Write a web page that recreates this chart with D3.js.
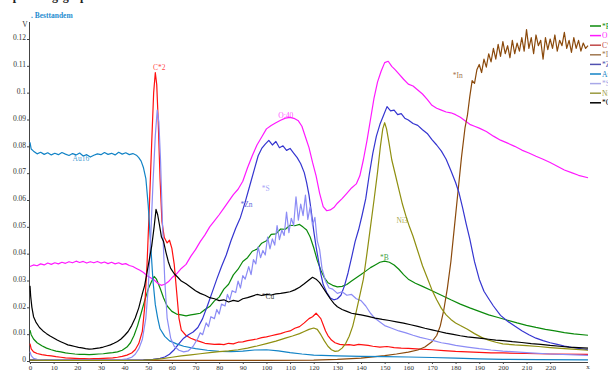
<!DOCTYPE html>
<html>
<head>
<meta charset="utf-8">
<script src="https://cdn.jsdelivr.net/npm/d3@7"></script>
<style>
  body { margin: 0; background: #fff; }
  svg { display: block; font-family: "Liberation Serif", "DejaVu Serif", serif; }
</style>
</head>
<body>
<div id="chart"></div>
<script>
// values, [x, volts]
const green = [[0,0.0115],[0.5,0.0098],[1.5,0.0082],[3,0.0068],[5,0.0057],[7,0.0048],[9,0.0042],[11,0.0037],[13,0.0034],[15,0.003],[17,0.0028],[19,0.0026],[21,0.0025],[23,0.0025],[25,0.0024],[27,0.0025],[29,0.0026],[31,0.0027],[33,0.0029],[35,0.0031],[37,0.0034],[39,0.004],[41,0.0052],[42.5,0.0068],[44,0.0095],[45.5,0.0132],[47,0.0178],[48.5,0.0225],[50,0.0268],[51.5,0.0298],[52.5,0.0315],[53.5,0.0305],[55,0.0272],[56.5,0.0235],[58,0.0205],[60,0.0185],[62,0.0175],[64,0.0172],[66,0.0168],[68,0.0172],[70,0.0175],[72,0.0178],[74,0.0192],[76,0.0203],[78,0.0224],[80,0.0238],[82,0.0268],[84,0.0286],[86,0.0321],[88,0.0342],[90,0.0371],[92,0.0385],[94,0.0409],[96,0.0417],[98,0.0439],[100,0.0448],[102,0.0472],[104,0.0474],[106,0.0492],[108,0.0491],[110,0.0506],[112,0.0504],[114,0.0509],[115.5,0.0499],[117,0.0488],[118.5,0.0462],[120,0.0422],[121.5,0.0375],[123,0.0338],[124.5,0.031],[126,0.0292],[128,0.0282],[130,0.0276],[132,0.0278],[134,0.0285],[136,0.0298],[138,0.031],[140,0.0322],[142,0.0335],[144,0.0348],[146,0.0358],[148,0.0368],[150,0.0372],[152,0.0368],[154,0.0358],[156,0.0342],[158,0.0322],[160,0.0305],[163,0.029],[166,0.0278],[170,0.0262],[174,0.0245],[178,0.0228],[182,0.0212],[186,0.0198],[190,0.0185],[194,0.0172],[198,0.0162],[202,0.0152],[206,0.0142],[210,0.0133],[214,0.0125],[218,0.0118],[222,0.0112],[226,0.0106],[230,0.0101],[236,0.0096]];

const magenta = [[0,0.0352],[1.5,0.0358],[3,0.0355],[4.5,0.0362],[6,0.0358],[7.5,0.0365],[9,0.036],[10.5,0.0366],[12,0.0362],[13.5,0.0368],[15,0.0364],[16.5,0.037],[18,0.0366],[19.5,0.0372],[21,0.0367],[22.5,0.0371],[24,0.0365],[25.5,0.037],[27,0.0366],[28.5,0.0371],[30,0.0365],[31.5,0.0369],[33,0.0363],[34.5,0.0368],[36,0.0362],[37.5,0.0366],[39,0.036],[40.5,0.0363],[42,0.0356],[43.5,0.0352],[45,0.0345],[46.5,0.0338],[48,0.033],[49.5,0.0318],[51,0.031],[52.5,0.0302],[54,0.029],[55.5,0.0282],[57,0.0286],[58.5,0.0295],[60,0.031],[62,0.0325],[64,0.0345],[66,0.036],[68,0.039],[70,0.0415],[72,0.0445],[74,0.047],[76,0.05],[78,0.0522],[80,0.0545],[82,0.057],[84,0.0595],[86,0.062],[88,0.064],[90,0.067],[92,0.072],[94,0.0765],[96,0.0805],[98,0.0835],[100,0.0865],[102,0.0878],[104,0.0888],[106,0.0897],[108,0.0905],[110,0.0908],[112,0.0903],[113.5,0.0895],[115,0.0875],[116.5,0.0835],[118,0.0795],[119.5,0.074],[121,0.069],[122.5,0.0625],[124,0.0575],[125.5,0.056],[127,0.0563],[128.5,0.0572],[130,0.0588],[132,0.0605],[134,0.0625],[136,0.0645],[138,0.066],[139.5,0.069],[141,0.075],[142.5,0.082],[144,0.09],[145.5,0.098],[147,0.104],[148.5,0.108],[150,0.1112],[151.5,0.1117],[153,0.1098],[154.5,0.1085],[156,0.107],[158,0.105],[160,0.1032],[162,0.1025],[164,0.101],[166,0.0995],[168,0.0975],[170,0.0953],[172,0.0942],[174,0.0935],[176,0.0928],[178,0.0925],[180,0.0918],[182,0.0908],[184,0.0895],[186,0.0882],[188,0.0875],[190,0.0868],[193,0.0855],[196,0.0838],[199,0.0823],[202,0.0812],[205,0.08],[208,0.0786],[211,0.0775],[214,0.0763],[217,0.0752],[220,0.074],[223,0.0726],[226,0.0712],[229,0.0702],[232,0.0692],[236,0.0683]];

const red = [[0,0.0065],[0.5,0.0045],[1.5,0.0034],[3,0.0028],[5,0.0024],[7,0.0021],[9,0.0019],[11,0.0016],[13,0.0014],[15,0.0012],[17,0.0011],[19,0.001],[21,0.0009],[23,0.0009],[25,0.0008],[27,0.0009],[29,0.0009],[31,0.001],[33,0.0011],[35,0.0012],[37,0.0014],[39,0.0017],[41,0.0022],[43,0.003],[44.5,0.0042],[46,0.0065],[47.5,0.011],[48.5,0.02],[49.5,0.036],[50.5,0.058],[51.5,0.082],[52.3,0.1],[53,0.1075],[53.6,0.103],[54.2,0.09],[55,0.068],[55.8,0.052],[56.8,0.046],[58,0.044],[59,0.045],[60,0.042],[61,0.036],[62,0.026],[63,0.016],[64,0.0115],[66,0.0095],[68,0.0085],[70,0.0078],[72,0.0072],[74,0.0066],[76,0.0064],[78,0.0062],[80,0.0063],[82,0.0061],[84,0.0066],[86,0.0064],[88,0.007],[90,0.0071],[92,0.0076],[94,0.0079],[96,0.0082],[98,0.0087],[100,0.009],[102,0.0094],[104,0.0098],[106,0.0102],[108,0.0108],[110,0.0112],[112,0.0122],[114,0.0128],[116,0.0142],[118,0.0158],[119.5,0.0165],[121,0.0178],[122,0.0168],[123,0.0158],[124,0.0135],[125,0.0112],[126,0.0095],[127.5,0.0078],[129,0.0068],[131,0.0062],[133,0.006],[135,0.0061],[137,0.0058],[139,0.0062],[141,0.006],[143,0.0058],[145,0.0055],[148,0.0052],[151,0.0054],[154,0.005],[157,0.0048],[160,0.0047],[165,0.0044],[170,0.0042],[175,0.0039],[180,0.0036],[185,0.0034],[190,0.0032],[195,0.003],[200,0.003],[210,0.0028],[220,0.0026],[236,0.0025]];

const brown = [[0,0.0002],[20,0.0002],[40,0.0002],[60,0.0002],[80,0.0002],[100,0.0002],[120,0.0003],[130,0.0006],[140,0.0011],[150,0.002],[155,0.0026],[160,0.0033],[164,0.0041],[167,0.0052],[170,0.0072],[172,0.0095],[173.5,0.013],[175,0.019],[176.5,0.027],[178,0.037],[179.5,0.05],[181,0.063],[182.5,0.076],[184,0.087],[185,0.0915],[186,0.0985],[187,0.1045],[188,0.1035],[189,0.1085],[190,0.1105],[191,0.1075],[192,0.1125],[193,0.1095],[194,0.1145],[195,0.1115],[196,0.1165],[197,0.1125],[198,0.118],[199,0.1135],[200,0.119],[201,0.1145],[202,0.1175],[203,0.113],[204,0.1195],[205,0.1145],[206,0.1185],[207,0.1155],[208,0.1205],[209,0.1155],[210,0.1235],[211,0.1165],[212,0.1205],[213,0.1145],[214,0.1215],[215,0.1175],[216,0.1195],[217,0.1125],[218,0.1205],[219,0.116],[220,0.12],[221,0.1165],[222,0.1215],[223,0.1155],[224,0.1195],[225,0.1175],[226,0.1225],[227,0.1165],[228,0.1195],[229,0.115],[230,0.1205],[231,0.1165],[232,0.1195],[233,0.1155],[234,0.1185],[235,0.1165],[236,0.1175]];

const navy = [[0,0.0004],[10,0.0003],[20,0.0003],[30,0.0003],[40,0.0003],[48,0.0004],[52,0.0006],[55,0.001],[57,0.0015],[59,0.0025],[61,0.0042],[63,0.0065],[65,0.0085],[67,0.0098],[69,0.0108],[71,0.0125],[73,0.0158],[75,0.0205],[77,0.0255],[79,0.0305],[81,0.0352],[83,0.0395],[85,0.0448],[87,0.0495],[89,0.0535],[91,0.0592],[93,0.0655],[95,0.0718],[96.5,0.0765],[98,0.0792],[99.5,0.0808],[101,0.0822],[102.5,0.0805],[104,0.0818],[105.5,0.0795],[107,0.0802],[108.5,0.0785],[110,0.0792],[111.5,0.0775],[113,0.0758],[114.5,0.0735],[116,0.0702],[117,0.0665],[118,0.0618],[119,0.0555],[120,0.0485],[121,0.0425],[122,0.0375],[123,0.0325],[124,0.0285],[125.5,0.0255],[127,0.0235],[128.5,0.0228],[130,0.0232],[131.5,0.0245],[133,0.028],[134.5,0.0328],[136,0.0385],[137.5,0.0445],[139,0.049],[140.5,0.0545],[142,0.0605],[143.5,0.0695],[145,0.0775],[146.5,0.0838],[148,0.0882],[149.5,0.0915],[151,0.0948],[152.5,0.0932],[154,0.0935],[155.5,0.0918],[157,0.0922],[158.5,0.0905],[160,0.0898],[162,0.0885],[164,0.0878],[166,0.0862],[168,0.0848],[170,0.0825],[172,0.0805],[174,0.0782],[176,0.0752],[178,0.071],[180,0.0665],[181.5,0.0625],[183,0.057],[184.5,0.051],[186,0.0455],[188,0.037],[190,0.0305],[192,0.026],[194,0.0232],[196,0.0205],[199,0.017],[202,0.0148],[205,0.013],[208,0.0113],[211,0.0098],[214,0.0085],[217,0.0076],[220,0.0068],[223,0.0062],[226,0.0056],[229,0.0051],[232,0.0047],[236,0.0042]];

const lightBlue = [[0,0.0815],[0.5,0.079],[1.5,0.0782],[3,0.0772],[4.5,0.0778],[6,0.077],[7.5,0.0776],[9,0.0768],[10.5,0.0774],[12,0.0769],[13.5,0.0777],[15,0.0771],[16.5,0.0766],[18,0.0773],[19.5,0.0768],[21,0.0775],[22.5,0.0764],[24,0.0769],[25.5,0.076],[27,0.0767],[28.5,0.0772],[30,0.0769],[31.5,0.0777],[33,0.077],[34.5,0.0774],[36,0.0768],[37.5,0.0778],[39,0.0771],[40.5,0.0776],[42,0.0769],[43.5,0.0773],[45,0.0767],[46,0.0758],[47,0.0745],[48,0.072],[49,0.068],[50,0.058],[51,0.044],[52,0.03],[53,0.021],[54,0.016],[55,0.012],[57,0.0092],[59,0.0075],[62,0.0064],[65,0.0055],[70,0.0046],[75,0.004],[80,0.0036],[85,0.0035],[90,0.0037],[95,0.0041],[100,0.0042],[105,0.0038],[110,0.0031],[115,0.0026],[120,0.0022],[130,0.0019],[140,0.0017],[150,0.0016],[160,0.0015],[170,0.0013],[180,0.0011],[190,0.0008],[200,0.0006],[215,0.0005],[236,0.0004]];

const lavender = [[0,0.0035],[0.5,0.002],[1.5,0.001],[3,0.0006],[6,0.0004],[10,0.0003],[20,0.0003],[30,0.0003],[38,0.0004],[41,0.0008],[43,0.0014],[44.5,0.0025],[46,0.0045],[47.5,0.008],[49,0.016],[50,0.027],[51,0.045],[52,0.066],[53,0.084],[53.8,0.0935],[54.5,0.089],[55.2,0.075],[56,0.052],[57,0.03],[58,0.016],[59.5,0.0085],[61,0.0055],[63,0.004],[65,0.0034],[67,0.0038],[69,0.0055],[71,0.0085],[72,0.0105],[73,0.0098],[74.5,0.0142],[75.5,0.0128],[76.5,0.0165],[78,0.0158],[79,0.0192],[80,0.0175],[81,0.0212],[82.5,0.0205],[83.5,0.0248],[84.5,0.0228],[85.5,0.0262],[87,0.0255],[88,0.0298],[89,0.0272],[90,0.0318],[91,0.0305],[92.5,0.0352],[93.5,0.0322],[94.5,0.0378],[95.5,0.0362],[96.5,0.0425],[97.5,0.0385],[98.5,0.0412],[99.5,0.0395],[100.5,0.0462],[101.5,0.0418],[102.5,0.0455],[103.5,0.0432],[104.5,0.0505],[105.5,0.0452],[106.5,0.0488],[107.5,0.0468],[108.5,0.0555],[109.5,0.0478],[110.5,0.0532],[111.5,0.0505],[112.5,0.0612],[113.5,0.0525],[114.5,0.0585],[115.5,0.0542],[116.5,0.0618],[117.5,0.0528],[118.5,0.0575],[119.5,0.0505],[120.5,0.0535],[121.5,0.0448],[122.5,0.0415],[123.5,0.0345],[125,0.0298],[126.5,0.0272],[128,0.0268],[130,0.0252],[132,0.0258],[134,0.0245],[136,0.0248],[138,0.0232],[140,0.0225],[142,0.0205],[144,0.0178],[146,0.0158],[148,0.0145],[150,0.0132],[153,0.0122],[156,0.0112],[159,0.0105],[162,0.0096],[165,0.0088],[168,0.0082],[171,0.0075],[174,0.0068],[177,0.0064],[180,0.0058],[185,0.0052],[190,0.0046],[195,0.0041],[200,0.0037],[210,0.0031],[220,0.0026],[236,0.0021]];

const olive = [[0,0.0003],[10,0.0002],[20,0.0002],[30,0.0002],[40,0.0002],[48,0.0003],[52,0.0005],[56,0.0009],[60,0.0014],[64,0.0019],[68,0.0023],[72,0.0027],[76,0.0031],[80,0.0035],[84,0.0038],[88,0.0042],[92,0.0048],[96,0.0056],[100,0.0065],[104,0.0074],[108,0.0085],[111,0.0093],[114,0.0102],[116,0.011],[118,0.0118],[120,0.0123],[121.5,0.0118],[123,0.0098],[124.5,0.0075],[126,0.0055],[127.5,0.0042],[129,0.0036],[130.5,0.0038],[132,0.0048],[133.5,0.0065],[135,0.0092],[136.5,0.013],[138,0.0185],[139.5,0.0245],[141,0.0305],[142.5,0.04],[144,0.05],[145.5,0.06],[147,0.0705],[148.2,0.08],[149.2,0.0865],[150,0.0888],[150.8,0.0865],[151.8,0.0815],[153,0.075],[154.5,0.0695],[156,0.064],[157.5,0.0585],[159,0.054],[160.5,0.05],[162,0.0465],[164,0.041],[166,0.0355],[168,0.031],[170,0.0265],[172,0.0228],[174,0.0196],[176,0.0172],[178,0.0155],[180,0.0142],[182,0.0132],[185,0.0118],[188,0.0102],[191,0.0088],[194,0.0078],[197,0.007],[200,0.0064],[205,0.006],[210,0.0057],[215,0.0054],[220,0.005],[226,0.0046],[231,0.0043],[236,0.004]];

const black = [[0,0.028],[0.3,0.024],[0.8,0.02],[1.5,0.0165],[2.5,0.0145],[4,0.0125],[5.5,0.0112],[7,0.0102],[8.5,0.0093],[10,0.0086],[11.5,0.0078],[13,0.0072],[14.5,0.0066],[16,0.006],[17.5,0.0057],[19,0.0054],[20.5,0.0051],[22,0.0049],[23.5,0.0046],[25,0.0044],[26.5,0.0045],[28,0.0047],[29.5,0.0049],[31,0.0052],[32.5,0.0056],[34,0.006],[35.5,0.0066],[37,0.0073],[38.5,0.0082],[40,0.0095],[41.5,0.011],[43,0.0132],[44.5,0.016],[46,0.0198],[47.5,0.025],[48.5,0.0282],[49.5,0.033],[50.5,0.038],[51.5,0.043],[52.5,0.05],[53.3,0.0565],[54,0.0545],[54.8,0.0505],[55.6,0.0462],[56.5,0.0445],[57.5,0.0405],[58.5,0.037],[59.5,0.0345],[61,0.0325],[62.5,0.0312],[64,0.0298],[66,0.0288],[68,0.0275],[70,0.0262],[72,0.0252],[74,0.0245],[76,0.0236],[78,0.0232],[80,0.0225],[82,0.0228],[84,0.022],[86,0.0226],[88,0.0222],[90,0.0232],[92,0.0236],[94,0.0242],[96,0.0248],[98,0.0244],[100,0.0248],[102,0.0246],[104,0.025],[106,0.0252],[108,0.0255],[110,0.0258],[112,0.0265],[114,0.0275],[116,0.0288],[118,0.0302],[119.5,0.0312],[121,0.0305],[122.5,0.0292],[124,0.0272],[125.5,0.0252],[127,0.0232],[128.5,0.0215],[130,0.0202],[132,0.0192],[134,0.0185],[136,0.0178],[138,0.0175],[140,0.0172],[143,0.0166],[146,0.016],[149,0.0155],[152,0.0151],[155,0.0146],[158,0.0141],[161,0.0135],[164,0.0129],[167,0.0122],[170,0.0116],[173,0.011],[176,0.0104],[179,0.0099],[182,0.0094],[185,0.009],[188,0.0087],[191,0.0084],[194,0.0081],[197,0.0078],[200,0.0076],[204,0.0072],[208,0.0069],[212,0.0065],[216,0.0062],[220,0.0058],[224,0.0055],[228,0.0052],[232,0.005],[236,0.0048]];

const seriesNames = ["*B", "O:40", "C*2", "*In", "*Zn", "Au16", "*S", "Ni3", "*Cu"];
const xTicks = d3.range(0, 230, 10);
const yTicks = d3.range(0, 0.121, 0.01);

// on-chart label anchors in data units [x, volts]
const labelAt = [[148, 0.0375], [105, 0.0905], [52, 0.1085], [183, 0.1055], [89, 0.0575], [18, 0.0745], [98, 0.0635], [155, 0.0515], [98, 0.023]];

const colors = ["#0b8a0b", "#ff19ff", "#ff1010", "#8b4a0c", "#3535d0", "#1283c6", "#8c8cf5", "#8f8f10", "#000000"];
const legendColors = ["#0b8a0b", "#ff19ff", "#c04848", "#a07850", "#5050b0", "#1283c6", "#a8a8e8", "#9a9a40", "#000000"];

const seriesData = [green, magenta, red, brown, navy, lightBlue, lavender, olive, black];

const W = 608, H = 370;
const x = d3.scaleLinear().domain([0, 236]).range([30, 588]);
const y = d3.scaleLinear().domain([0, 0.12]).range([361, 39]);

const svg = d3.select("#chart").append("svg")
  .attr("width", W).attr("height", H);

// heading, mostly cut off by the top edge
svg.append("text").attr("x", 6).attr("y", -0.5)
  .attr("font-size", 12).attr("font-weight", "bold").attr("fill", "#222")
  .text("Spannungsgraph");

svg.append("text").attr("x", 31).attr("y", 18)
  .attr("font-size", 7.5).attr("font-weight", "bold").attr("fill", "#1f8dd0")
  .text(". Besttandem");

// axes
const yAxis = svg.append("g").attr("transform", "translate(30,0)")
  .call(d3.axisLeft(y).tickValues(yTicks).tickSize(3).tickPadding(1)
    .tickFormat(d => String(+d.toFixed(2))));
const xAxis = svg.append("g").attr("transform", "translate(0,362)")
  .call(d3.axisBottom(x).tickValues(xTicks).tickSize(2).tickPadding(1)
    .tickFormat(d => d));
[yAxis, xAxis].forEach(g => {
  g.select(".domain").remove();
  g.selectAll("text").attr("font-family", "Liberation Serif, serif").attr("fill", "#333");
  g.selectAll("line").attr("stroke", "#444");
});
yAxis.selectAll("text").attr("font-size", 7.5).attr("dy", "0.1em");
xAxis.selectAll("text").attr("font-size", 7);

svg.append("line").attr("x1", 29.5).attr("x2", 29.5).attr("y1", 22).attr("y2", 362)
  .attr("stroke", "#444").attr("stroke-width", 1);
svg.append("line").attr("x1", 29.5).attr("x2", 588).attr("y1", 362.5).attr("y2", 362.5)
  .attr("stroke", "#444").attr("stroke-width", 1);
svg.append("text").attr("x", 25).attr("y", 27).attr("font-size", 7.5)
  .attr("text-anchor", "middle").attr("fill", "#333").text("V");
svg.append("text").attr("x", 588).attr("y", 369).attr("font-size", 7)
  .attr("text-anchor", "middle").attr("fill", "#333").text("x");

// lines
const line = d3.line().x(d => x(d[0])).y(d => y(d[1]));
seriesData.forEach((data, i) => {
  svg.append("path").datum(data)
    .attr("fill", "none")
    .attr("stroke", colors[i])
    .attr("stroke-width", 1.2)
    .attr("stroke-linejoin", "round")
    .attr("d", line);
});

// labels on the curves
labelAt.forEach((p, i) => {
  svg.append("text").attr("x", x(p[0])).attr("y", y(p[1]))
    .attr("font-size", 7.5).attr("fill", colors[i]).attr("fill-opacity", 0.8)
    .attr("text-anchor", i === 3 ? "end" : "start")
    .text(seriesNames[i]);
});

// legend (runs off the right edge)
const legend = svg.append("g");
seriesNames.forEach((name, i) => {
  const ly = 26 + i * 9.6;
  legend.append("line").attr("x1", 590).attr("x2", 601).attr("y1", ly).attr("y2", ly)
    .attr("stroke", legendColors[i]).attr("stroke-width", 1.5);
  legend.append("text").attr("x", 602).attr("y", ly + 2.5)
    .attr("font-size", 7.5).attr("fill", legendColors[i]).text(name);
});
</script>
</body>
</html>
